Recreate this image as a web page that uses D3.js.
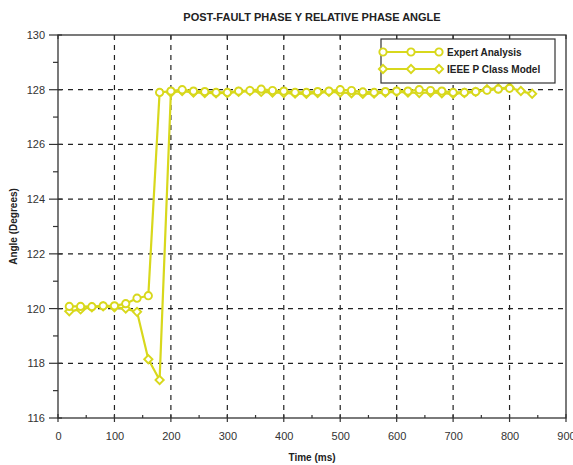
<!DOCTYPE html>
<html>
<head>
<meta charset="utf-8">
<script src="https://cdn.jsdelivr.net/npm/d3@7/dist/d3.min.js"></script>
<style>
  html, body { margin: 0; padding: 0; background: #fff; }
  svg { display: block; font-family: "Liberation Sans", Arial, sans-serif; }
</style>
</head>
<body>
<svg id="chart" width="573" height="465"></svg>
<script>
// Sample times (ms) and phase-angle readings (degrees)
const expertTime = [20, 40, 60, 80, 100, 120, 140, 160, 180, 200, 220, 240, 260, 280, 300, 320, 340, 360, 380, 400,
  420, 440, 460, 480, 500, 520, 540, 560, 580, 600, 620, 640, 660, 680, 700, 720, 740, 760, 780, 800];
const expertAngle = [120.08, 120.08, 120.07, 120.1, 120.1, 120.18, 120.38, 120.47, 127.9, 127.95, 128.0, 127.95, 127.93, 127.9, 127.9, 127.95, 127.97, 128.02, 127.97, 127.95,
  127.9, 127.9, 127.93, 127.95, 128.0, 127.97, 127.92, 127.9, 127.93, 127.95, 127.95, 128.0, 127.97, 127.95, 127.9, 127.9, 127.93, 127.98, 128.02, 128.05];

const ieeeTime = [20, 40, 60, 80, 100, 120, 140, 160, 180, 200, 220, 240, 260, 280, 300, 320, 340, 360, 380, 400,
  420, 440, 460, 480, 500, 520, 540, 560, 580, 600, 620, 640, 660, 680, 700, 720, 740, 760, 780, 800, 820, 840];
const ieeeAngle = [119.9, 119.97, 120.05, 120.08, 120.05, 120.0, 119.88, 118.15, 117.39, 127.9, 127.95, 127.9, 127.88, 127.87, 127.88, 127.92, 127.95, 127.92, 127.9, 127.88,
  127.86, 127.85, 127.88, 127.92, 127.9, 127.87, 127.85, 127.86, 127.9, 127.92, 127.9, 127.88, 127.9, 127.87, 127.85, 127.88, 127.92, 128.02, 128.05, 128.08, 127.95, 127.85];

const xTicks = [0, 100, 200, 300, 400, 500, 600, 700, 800, 900];
const yTicks = [116, 118, 120, 122, 124, 126, 128, 130];
const seriesNames = ["Expert Analysis", "IEEE P Class Model"];

const titleText = "POST-FAULT PHASE Y RELATIVE PHASE ANGLE";
const xLabel = "Time (ms)";
const yLabel = "Angle (Degrees)";

const lineColor = "#d8d81c";
const axisColor = "#333";

const svg = d3.select("#chart");
const m = { left: 58, right: 566, top: 35, bottom: 418 };

const x = d3.scaleLinear().domain([0, 900]).range([m.left, m.right]);
const y = d3.scaleLinear().domain([116, 130]).range([m.bottom, m.top]);

// Dashed grid
const grid = svg.append("g").attr("stroke", "#222").attr("stroke-width", 1.2).attr("stroke-dasharray", "5,5");
grid.selectAll("line.gx").data(xTicks.slice(1, -1)).join("line")
  .attr("x1", d => x(d)).attr("x2", d => x(d)).attr("y1", m.top).attr("y2", m.bottom);
grid.selectAll("line.gy").data(yTicks.slice(1, -1)).join("line")
  .attr("x1", m.left).attr("x2", m.right).attr("y1", d => y(d)).attr("y2", d => y(d));

// Frame
svg.append("rect").attr("x", m.left).attr("y", m.top)
  .attr("width", m.right - m.left).attr("height", m.bottom - m.top)
  .attr("fill", "none").attr("stroke", axisColor).attr("stroke-width", 1.3);

// Bottom axis
const xAxis = svg.append("g").attr("transform", `translate(0,${m.bottom})`)
  .call(d3.axisBottom(x).tickValues(xTicks).tickSize(0).tickPadding(14).tickFormat(d3.format("d")));
xAxis.select(".domain").remove();
xAxis.selectAll("text").attr("font-size", 11).attr("fill", axisColor);
const xMinor = d3.range(50, 900, 100);
svg.append("g").attr("stroke", axisColor).attr("stroke-width", 1.2)
  .selectAll("line").data(xTicks).join("line")
  .attr("x1", d => x(d)).attr("x2", d => x(d)).attr("y1", m.bottom - 4).attr("y2", m.bottom + 4);
svg.append("g").attr("stroke", axisColor).attr("stroke-width", 1.2)
  .selectAll("line").data(xMinor).join("line")
  .attr("x1", d => x(d)).attr("x2", d => x(d)).attr("y1", m.bottom - 3).attr("y2", m.bottom);
// Top-edge ticks
svg.append("g").attr("stroke", axisColor).attr("stroke-width", 1.2)
  .selectAll("line").data(xTicks).join("line")
  .attr("x1", d => x(d)).attr("x2", d => x(d)).attr("y1", m.top).attr("y2", m.top + 4);

// Left axis
const yAxis = svg.append("g").attr("transform", `translate(${m.left},0)`)
  .call(d3.axisLeft(y).tickValues(yTicks).tickSize(0).tickPadding(13).tickFormat(d3.format("d")));
yAxis.select(".domain").remove();
yAxis.selectAll("text").attr("font-size", 11).attr("fill", axisColor);
svg.append("g").attr("stroke", axisColor).attr("stroke-width", 1.2)
  .selectAll("line").data(yTicks).join("line")
  .attr("x1", m.left - 9).attr("x2", m.left + 4).attr("y1", d => y(d)).attr("y2", d => y(d));
svg.append("g").attr("stroke", axisColor).attr("stroke-width", 1.2)
  .selectAll("line").data(d3.range(117, 130, 2)).join("line")
  .attr("x1", m.left - 5).attr("x2", m.left).attr("y1", d => y(d)).attr("y2", d => y(d));

// Titles
svg.append("text").attr("x", (m.left + m.right) / 2).attr("y", 21)
  .attr("text-anchor", "middle").attr("font-size", 11).attr("font-weight", "bold")
  .attr("fill", "#222").text(titleText);
svg.append("text").attr("x", (m.left + m.right) / 2).attr("y", 461)
  .attr("text-anchor", "middle").attr("font-size", 10).attr("font-weight", "bold")
  .attr("fill", "#222").text(xLabel);
svg.append("text").attr("transform", `translate(17,${(m.top + m.bottom) / 2}) rotate(-90)`)
  .attr("text-anchor", "middle").attr("font-size", 10).attr("font-weight", "bold")
  .attr("fill", "#222").text(yLabel);

// Series
const line = d3.line().x(d => x(d[0])).y(d => y(d[1]));
const expert = expertTime.map((t, i) => [t, expertAngle[i]]);
const ieee = ieeeTime.map((t, i) => [t, ieeeAngle[i]]);

const plot = svg.append("g");
plot.append("path").datum(expert).attr("d", line)
  .attr("fill", "none").attr("stroke", lineColor).attr("stroke-width", 2.2);
plot.append("path").datum(ieee).attr("d", line)
  .attr("fill", "none").attr("stroke", lineColor).attr("stroke-width", 2.2);

const circleSym = d3.symbol().type(d3.symbolCircle).size(42);
const diamondSym = d3.symbol().type(d3.symbolSquare).size(34);

plot.selectAll("path.ie").data(ieee).join("path").attr("class", "ie")
  .attr("d", diamondSym)
  .attr("transform", d => `translate(${x(d[0])},${y(d[1])}) rotate(45)`)
  .attr("fill", "#fff").attr("stroke", lineColor).attr("stroke-width", 1.9);
plot.selectAll("path.ex").data(expert).join("path").attr("class", "ex")
  .attr("d", circleSym)
  .attr("transform", d => `translate(${x(d[0])},${y(d[1])})`)
  .attr("fill", "#fff").attr("stroke", lineColor).attr("stroke-width", 1.9);

// Legend
const lg = svg.append("g").attr("transform", "translate(381,39)");
lg.append("rect").attr("width", 174).attr("height", 44)
  .attr("fill", "#fff").attr("stroke", "#333").attr("stroke-width", 1.2);
const sx = [2, 30, 58];
seriesNames.forEach((name, i) => {
  const ry = 13 + i * 17;
  const row = lg.append("g").attr("transform", `translate(0,${ry})`);
  row.append("line").attr("x1", sx[0]).attr("x2", sx[2]).attr("y1", 0).attr("y2", 0)
    .attr("stroke", lineColor).attr("stroke-width", 2);
  row.selectAll("path").data(sx).join("path")
    .attr("d", i === 0 ? circleSym : diamondSym)
    .attr("transform", d => `translate(${d},0)` + (i === 0 ? "" : " rotate(45)"))
    .attr("fill", "#fff").attr("stroke", lineColor).attr("stroke-width", 1.9);
  row.append("text").attr("x", 66).attr("y", 4).attr("font-size", 10)
    .attr("font-weight", "bold").attr("fill", "#222").text(name);
});
</script>
</body>
</html>
